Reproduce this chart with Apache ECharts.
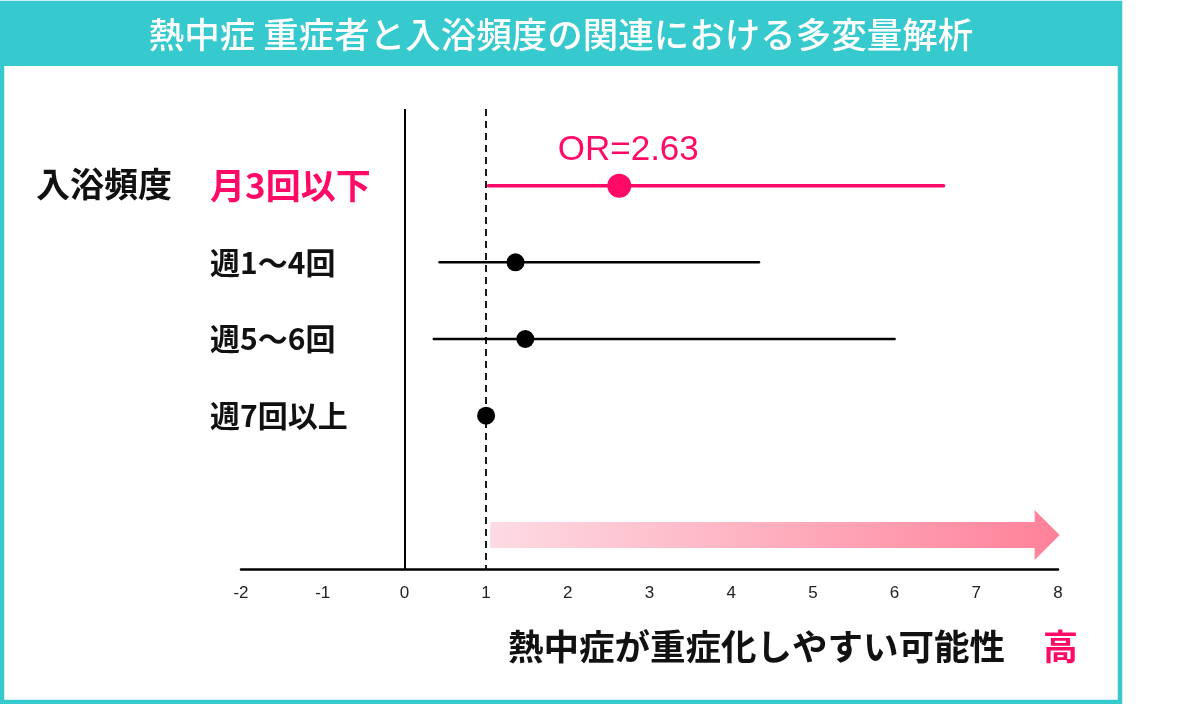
<!DOCTYPE html>
<html>
<head>
<meta charset="utf-8">
<script src="https://cdn.jsdelivr.net/npm/echarts@6/dist/echarts.min.js"></script>
<style>
html,body{margin:0;padding:0;background:#fff;}
#main{width:1200px;height:704px;}
</style>
</head>
<body>
<div id="main"></div>
<script>
// ---- data ----
const titleText = '熱中症 重症者と入浴頻度の関連における多変量解析';
const groupLabel = '入浴頻度';
const categories = ['月3回以下', '週1〜4回', '週5〜6回', '週7回以上'];
const oddsRatio = [2.63, 1.36, 1.48, 1.00];
const ciLower = [1.03, 0.43, 0.36, null];
const ciUpper = [6.60, 4.34, 6.00, null];
const xTicks = [-2, -1, 0, 1, 2, 3, 4, 5, 6, 7, 8];
const xAxisCaption = '熱中症が重症化しやすい可能性';
const highLabel = '高';

const PINK = '#ff0a67';
const TEAL = '#36c9cd';
const JP = '"Noto Sans CJK JP", "Noto Sans", sans-serif';

const yCats = [''].concat(categories, [' ', '  ']);

const chart = echarts.init(document.getElementById('main'), null, {renderer: 'canvas'});

const ciData = categories.map((c, i) => ciLower[i] == null ? null : {
  value: [ciLower[i], ciUpper[i], c],
  itemStyle: {color: i === 0 ? PINK : '#000'}
}).filter(d => d);

const pointData = categories.map((c, i) => ({
  value: [oddsRatio[i], c],
  symbolSize: i === 0 ? 24 : 18,
  itemStyle: {color: i === 0 ? PINK : '#000', opacity: 1},
  label: i === 0 ? {
    show: true, position: 'top', distance: 6, offset: [9, 0],
    formatter: 'OR=' + oddsRatio[i].toFixed(2),
    color: PINK, fontSize: 35, fontFamily: '"Liberation Sans", Arial, sans-serif'
  } : {show: false}
}));

const option = {
  animation: false,
  backgroundColor: '#fff',
  grid: {left: 241, right: 142, top: 109, bottom: 135},
  xAxis: {
    type: 'value', min: -2, max: 8, interval: 1,
    axisLine: {show: true, onZero: false, lineStyle: {color: '#000', width: 2.5}},
    axisTick: {show: false},
    splitLine: {show: false},
    axisLabel: {
      margin: 16, color: '#222', fontSize: 17,
      fontFamily: '"Liberation Sans Narrow", "Liberation Sans", Arial, sans-serif',
      formatter: v => xTicks.includes(v) ? String(v) : ''
    }
  },
  yAxis: {
    type: 'category', data: yCats.map((c, i) => i === 1 ? {
      value: c, textStyle: {color: PINK, fontSize: 35, fontWeight: 'bold', align: 'left', fontFamily: JP}
    } : c),
    inverse: true, boundaryGap: false,
    axisLine: {show: false}, axisTick: {show: false}, splitLine: {show: false},
    axisLabel: {
      align: 'left', margin: 31, color: '#111', fontSize: 30, fontWeight: 'bold',
      fontFamily: JP, interval: 0
    }
  },
  series: [
    {
      type: 'custom',
      z: 3,
      data: ciData,
      encode: {x: [0, 1], y: 2},
      renderItem: function (params, api) {
        const p1 = api.coord([api.value(0), api.value(2)]);
        const p2 = api.coord([api.value(1), api.value(2)]);
        const col = api.visual('color');
        return {
          type: 'line',
          shape: {x1: p1[0], y1: p1[1], x2: p2[0], y2: p2[1]},
          style: {stroke: col, lineWidth: params.dataIndex === 0 ? 3.5 : 2.5, lineCap: 'round'}
        };
      }
    },
    {
      type: 'scatter',
      z: 4,
      symbol: 'circle',
      data: pointData,
      itemStyle: {opacity: 1},
      markLine: {
        silent: true, symbol: 'none', label: {show: false},
        data: [
          {xAxis: 0, lineStyle: {color: '#000', width: 2, type: 'solid'}},
          {xAxis: 1, lineStyle: {color: '#000', width: 1.8, type: [7, 5]}}
        ]
      }
    }
  ],
  graphic: [
    {type: 'rect', z: -10, shape: {x: 2, y: 3, width: 1118, height: 699},
      style: {fill: '#fff', stroke: TEAL, lineWidth: 4.5}},
    {type: 'rect', z: -9, shape: {x: 0, y: 3, width: 1122, height: 63, r: [0, 3, 0, 0]},
      style: {fill: TEAL}},
    {type: 'text', z: 10, x: 561, y: 35,
      style: {text: titleText, fill: '#fff', font: '500 35.5px ' + JP, textAlign: 'center', textVerticalAlign: 'middle'}},
    {type: 'text', z: 10, x: 36, y: 184,
      style: {text: groupLabel, fill: '#111', font: 'bold 34px ' + JP, textAlign: 'left', textVerticalAlign: 'middle'}},
    {type: 'text', z: 10, x: 1078, y: 647,
      style: {
        text: '{a|' + xAxisCaption + '}{s| }{b|' + highLabel + '}',
        textAlign: 'right', textVerticalAlign: 'middle',
        rich: {
          a: {fontSize: 35.5, fontWeight: 'bold', fontFamily: JP, fill: '#111', color: '#111'},
          s: {fontSize: 35, fontFamily: JP, width: 38},
          b: {fontSize: 35, fontWeight: 'bold', fontFamily: JP, fill: PINK, color: PINK}
        }
      }}
  ]
};

chart.setOption(option);

// gradient arrow tied to the x scale (from OR=1 towards the axis end)
const xStart = chart.convertToPixel({xAxisIndex: 0}, 1.05);
const xEnd = chart.convertToPixel({xAxisIndex: 0}, 8.02);
const yAxisPix = chart.convertToPixel({yAxisIndex: 0}, yCats[yCats.length - 1]);
const cy = yAxisPix - 34;
const headLen = 25, shaftH = 13, headH = 25;
chart.setOption({
  graphic: option.graphic.concat([{
    type: 'polygon', z: 1,
    shape: {points: [
      [xStart, cy - shaftH], [xEnd - headLen, cy - shaftH], [xEnd - headLen, cy - headH],
      [xEnd, cy], [xEnd - headLen, cy + headH], [xEnd - headLen, cy + shaftH], [xStart, cy + shaftH]
    ]},
    style: {fill: new echarts.graphic.LinearGradient(0, 0, 1, 0, [
      {offset: 0, color: '#fddbe4'}, {offset: 1, color: '#ff8199'}
    ])}
  }])
});
</script>
</body>
</html>
